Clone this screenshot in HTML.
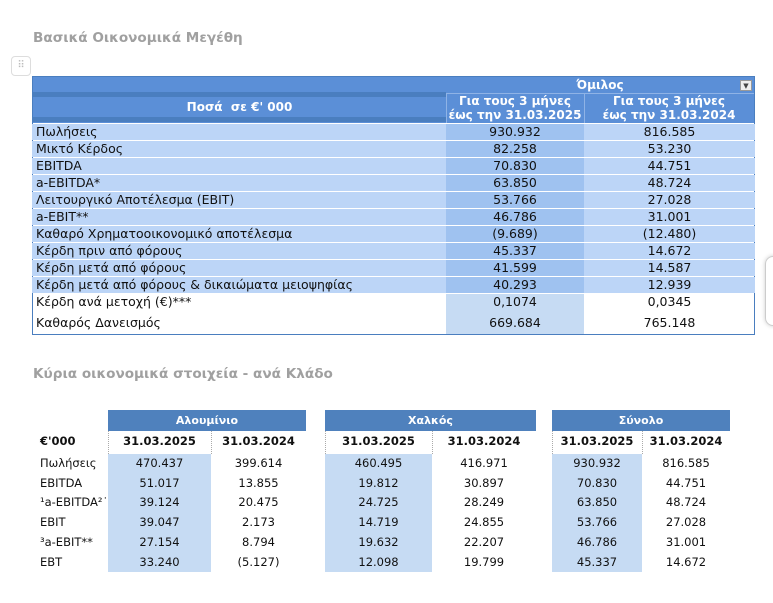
<!DOCTYPE html>
<html><head><meta charset="utf-8"><style>
*{margin:0;padding:0;box-sizing:border-box}
body{width:773px;height:603px;background:#fff;position:relative;overflow:hidden;font-family:"DejaVu Sans","Liberation Sans",sans-serif;}
.a{position:absolute}
.t{color:#a0a0a0;font-weight:bold;font-size:13.6px}
.r{position:absolute;left:32px;width:723px;height:17px;font-size:12.5px;color:#111;line-height:16px}
.r div{position:absolute;top:0;height:16px}
.c1{left:0;width:414px;padding-left:4px;background:#bcd5f7}
.c2{left:414px;width:138px;text-align:center;background:#9fc2f0}
.c3{left:552px;width:171px;text-align:center;background:#bcd5f7}
.h{font-weight:bold;color:#fff;text-align:center;font-size:12px}
.b{font-size:11.5px;color:#111}
</style></head><body>
<div class="a t" style="left:33px;top:30px">Βασικά Οικονομικά Μεγέθη</div>
<div class="a" style="left:11px;top:56px;width:20px;height:20px;border:1px solid #ddd;border-radius:4px;color:#bbb;font-size:10px;text-align:center;line-height:18px">⠿</div>
<div class="a" style="left:32px;top:76px;width:723px;height:259px;border:1px solid #4a7ebf"></div>
<div class="a" style="left:33px;top:77px;width:721px;height:46px;background:#5b8fd7"></div>
<div class="a" style="left:33px;top:92px;width:413px;height:5px;background:#4a7ebf"></div>
<div class="a" style="left:33px;top:117px;width:413px;height:5px;background:#4a7ebf"></div>
<div class="a" style="left:446px;top:93px;width:308px;height:1px;background:#8fb3e6"></div>
<div class="a" style="left:446px;top:93px;width:1px;height:30px;background:#8fb3e6"></div>
<div class="a" style="left:584px;top:93px;width:1px;height:30px;background:#8fb3e6"></div>
<div class="a h" style="left:33px;top:100px;width:413px">Ποσά &nbsp;σε €' 000</div>
<div class="a h" style="left:446px;top:78px;width:308px">Όμιλος</div>
<div class="a" style="left:740px;top:80px;width:12px;height:11px;background:#eee;border:1px solid #999;font-size:7px;line-height:10px;text-align:center;color:#444">▼</div>
<div class="a h" style="left:446px;top:94px;width:138px;line-height:14px">Για τους 3 μήνες<br>έως την 31.03.2025</div>
<div class="a h" style="left:584px;top:94px;width:170px;line-height:14px">Για τους 3 μήνες<br>έως την 31.03.2024</div>

<div class="r" style="top:124px"><div class="c1">Πωλήσεις</div><div class="c2">930.932</div><div class="c3">816.585</div></div>
<div class="r" style="top:141px"><div class="c1">Μικτό Κέρδος</div><div class="c2">82.258</div><div class="c3">53.230</div></div>
<div class="r" style="top:158px"><div class="c1">EBITDA</div><div class="c2">70.830</div><div class="c3">44.751</div></div>
<div class="r" style="top:175px"><div class="c1">a-EBITDA*</div><div class="c2">63.850</div><div class="c3">48.724</div></div>
<div class="r" style="top:192px"><div class="c1">Λειτουργικό Αποτέλεσμα (EBIT)</div><div class="c2">53.766</div><div class="c3">27.028</div></div>
<div class="r" style="top:209px"><div class="c1">a-EBIT**</div><div class="c2">46.786</div><div class="c3">31.001</div></div>
<div class="r" style="top:226px"><div class="c1">Καθαρό Χρηματοοικονομικό αποτέλεσμα</div><div class="c2">(9.689)</div><div class="c3">(12.480)</div></div>
<div class="r" style="top:243px"><div class="c1">Κέρδη πριν από φόρους</div><div class="c2">45.337</div><div class="c3">14.672</div></div>
<div class="r" style="top:260px"><div class="c1">Κέρδη μετά από φόρους</div><div class="c2">41.599</div><div class="c3">14.587</div></div>
<div class="r" style="top:277px"><div class="c1">Κέρδη μετά από φόρους &amp; δικαιώματα μειοψηφίας</div><div class="c2">40.293</div><div class="c3">12.939</div></div>
<div class="a" style="left:446px;top:294px;width:138px;height:40px;background:#c6dbf3"></div>
<div class="r" style="top:294px"><div class="c1" style="background:none">Κέρδη ανά μετοχή (€)***</div><div class="c2" style="background:none">0,1074</div><div class="c3" style="background:none">0,0345</div></div>
<div class="r" style="top:315px"><div class="c1" style="background:none">Καθαρός Δανεισμός</div><div class="c2" style="background:none">669.684</div><div class="c3" style="background:none">765.148</div></div>
<div class="a" style="left:765px;top:256px;width:20px;height:70px;border:1px solid #ccc;border-radius:8px;box-shadow:0 0 4px #ccc"></div>

<div class="a t" style="left:33px;top:366px">Κύρια οικονομικά στοιχεία - ανά Κλάδο</div>

<div class="a b" style="left:40px;top:434px;font-weight:bold">€'000</div>
<div class="a b" style="left:40px;top:454px;line-height:19.7px">Πωλήσεις<br>EBITDA<br>¹a-EBITDA²˙<br>EBIT<br>³a-EBIT**<br>EBT</div>

<div class="a h" style="left:108px;top:410px;width:198px;height:21px;line-height:21px;background:#4f81bd;font-size:11px">Αλουμίνιο</div>
<div class="a" style="left:108px;top:454px;width:103px;height:118px;background:#c6dbf3"></div>
<div class="a" style="left:108px;top:431px;width:1px;height:23px;border-left:1px dotted #aaa"></div>
<div class="a" style="left:211px;top:431px;width:1px;height:23px;border-left:1px dotted #aaa"></div>
<div class="a b" style="left:108px;top:434px;width:103px;text-align:center;font-weight:bold">31.03.2025</div>
<div class="a b" style="left:211px;top:434px;width:95px;text-align:center;font-weight:bold">31.03.2024</div>
<div class="a b" style="left:108px;top:454px;width:103px;text-align:center;line-height:19.7px">470.437<br>51.017<br>39.124<br>39.047<br>27.154<br>33.240</div>
<div class="a b" style="left:211px;top:454px;width:95px;text-align:center;line-height:19.7px">399.614<br>13.855<br>20.475<br>2.173<br>8.794<br>(5.127)</div>

<div class="a h" style="left:325px;top:410px;width:211px;height:21px;line-height:21px;background:#4f81bd;font-size:11px">Χαλκός</div>
<div class="a" style="left:325px;top:454px;width:107px;height:118px;background:#c6dbf3"></div>
<div class="a" style="left:325px;top:431px;width:1px;height:23px;border-left:1px dotted #aaa"></div>
<div class="a" style="left:432px;top:431px;width:1px;height:23px;border-left:1px dotted #aaa"></div>
<div class="a b" style="left:325px;top:434px;width:107px;text-align:center;font-weight:bold">31.03.2025</div>
<div class="a b" style="left:432px;top:434px;width:104px;text-align:center;font-weight:bold">31.03.2024</div>
<div class="a b" style="left:325px;top:454px;width:107px;text-align:center;line-height:19.7px">460.495<br>19.812<br>24.725<br>14.719<br>19.632<br>12.098</div>
<div class="a b" style="left:432px;top:454px;width:104px;text-align:center;line-height:19.7px">416.971<br>30.897<br>28.249<br>24.855<br>22.207<br>19.799</div>

<div class="a h" style="left:552px;top:410px;width:178px;height:21px;line-height:21px;background:#4f81bd;font-size:11px">Σύνολο</div>
<div class="a" style="left:552px;top:454px;width:90px;height:118px;background:#c6dbf3"></div>
<div class="a" style="left:552px;top:431px;width:1px;height:23px;border-left:1px dotted #aaa"></div>
<div class="a" style="left:642px;top:431px;width:1px;height:23px;border-left:1px dotted #aaa"></div>
<div class="a b" style="left:552px;top:434px;width:90px;text-align:center;font-weight:bold">31.03.2025</div>
<div class="a b" style="left:642px;top:434px;width:88px;text-align:center;font-weight:bold">31.03.2024</div>
<div class="a b" style="left:552px;top:454px;width:90px;text-align:center;line-height:19.7px">930.932<br>70.830<br>63.850<br>53.766<br>46.786<br>45.337</div>
<div class="a b" style="left:642px;top:454px;width:88px;text-align:center;line-height:19.7px">816.585<br>44.751<br>48.724<br>27.028<br>31.001<br>14.672</div>
</body></html>
